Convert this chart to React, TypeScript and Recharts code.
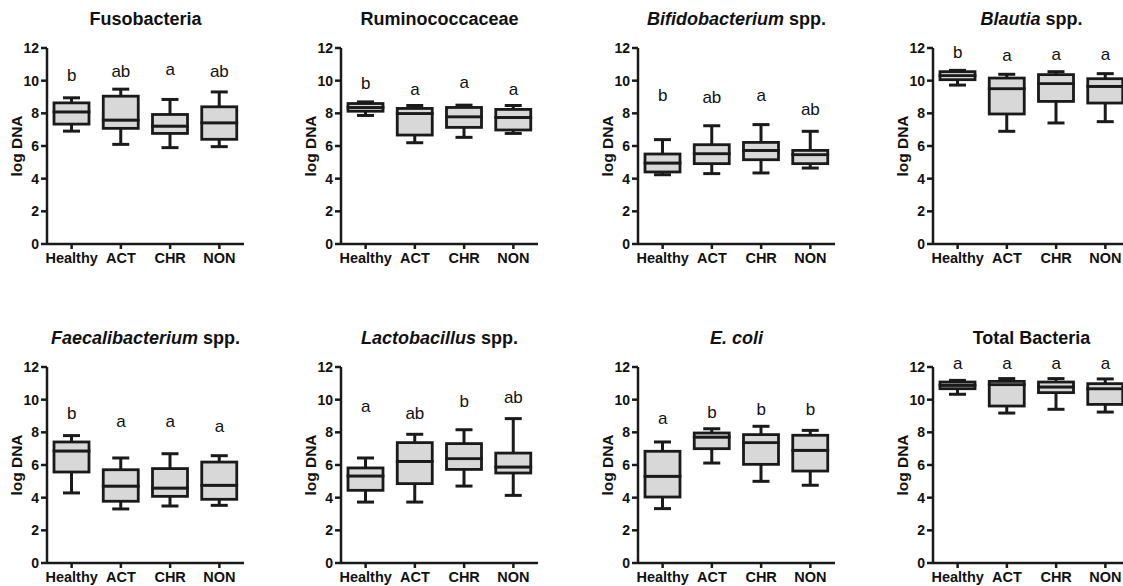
import React from 'react'
import { ComposedChart, Bar, Scatter, XAxis, YAxis } from 'recharts'

const categories = ['Healthy', 'ACT', 'CHR', 'NON']
const yTicks = [0, 2, 4, 6, 8, 10, 12]

// [min, q1, median, q3, max] per group
const fusobacteria = [
  [6.91, 7.34, 8.09, 8.64, 8.95],
  [6.1, 7.08, 7.59, 9.05, 9.48],
  [5.9, 6.77, 7.22, 7.93, 8.85],
  [5.96, 6.41, 7.42, 8.4, 9.31],
]
const fusobacteriaLetters = ['b', 'ab', 'a', 'ab']
const fusobacteriaLetterY = [9.97, 10.23, 10.33, 10.23]

const ruminococcaceae = [
  [7.87, 8.13, 8.36, 8.6, 8.7],
  [6.2, 6.67, 7.99, 8.3, 8.48],
  [6.53, 7.14, 7.79, 8.36, 8.5],
  [6.77, 6.98, 7.75, 8.24, 8.48],
]
const ruminococcaceaeLetters = ['b', 'a', 'a', 'a']
const ruminococcaceaeLetterY = [9.46, 9.11, 9.58, 9.11]

const bifidobacterium = [
  [4.24, 4.41, 4.96, 5.51, 6.39],
  [4.31, 4.92, 5.53, 6.08, 7.24],
  [4.35, 5.16, 5.73, 6.22, 7.31],
  [4.65, 4.92, 5.47, 5.73, 6.9],
]
const bifidobacteriumLetters = ['b', 'ab', 'a', 'ab']
const bifidobacteriumLetterY = [8.73, 8.63, 8.73, 7.92]

const blautia = [
  [9.73, 10.06, 10.31, 10.55, 10.63],
  [6.9, 7.96, 9.51, 10.16, 10.39],
  [7.41, 8.73, 9.82, 10.37, 10.55],
  [7.49, 8.63, 9.65, 10.12, 10.43],
]
const blautiaLetters = ['b', 'a', 'a', 'a']
const blautiaLetterY = [11.39, 11.18, 11.24, 11.24]

const faecalibacterium = [
  [4.29, 5.57, 6.86, 7.41, 7.8],
  [3.31, 3.78, 4.71, 5.71, 6.43],
  [3.49, 4.08, 4.59, 5.78, 6.69],
  [3.53, 3.9, 4.76, 6.18, 6.57],
]
const faecalibacteriumLetters = ['b', 'a', 'a', 'a']
const faecalibacteriumLetterY = [8.84, 8.33, 8.33, 8.02]

const lactobacillus = [
  [3.73, 4.45, 5.33, 5.82, 6.43],
  [3.73, 4.86, 6.22, 7.37, 7.88],
  [4.71, 5.73, 6.39, 7.31, 8.16],
  [4.14, 5.51, 5.88, 6.73, 8.84],
]
const lactobacillusLetters = ['a', 'ab', 'b', 'ab']
const lactobacillusLetterY = [9.24, 8.84, 9.55, 9.8]

const ecoli = [
  [3.33, 4.04, 5.31, 6.84, 7.41],
  [6.12, 7.0, 7.71, 7.96, 8.22],
  [5.0, 6.04, 7.37, 7.86, 8.37],
  [4.76, 5.63, 6.9, 7.82, 8.12],
]
const ecoliLetters = ['a', 'b', 'b', 'b']
const ecoliLetterY = [8.53, 8.9, 9.04, 9.04]

const totalBacteria = [
  [10.33, 10.67, 10.88, 11.08, 11.18],
  [9.18, 9.61, 10.92, 11.12, 11.29],
  [9.41, 10.43, 10.78, 11.08, 11.29],
  [9.24, 9.71, 10.67, 10.98, 11.27],
]
const totalBacteriaLetters = ['a', 'a', 'a', 'a']
const totalBacteriaLetterY = [11.86, 11.86, 11.86, 11.86]

const INK = '#1a1a1a'
const BOX_FILL = '#d8d8d8'
const CAP = 8.5

const panels = [
  { title: <>Fusobacteria</>, stats: fusobacteria, letters: fusobacteriaLetters, letterY: fusobacteriaLetterY },
  { title: <>Ruminococcaceae</>, stats: ruminococcaceae, letters: ruminococcaceaeLetters, letterY: ruminococcaceaeLetterY },
  { title: <><i>Bifidobacterium</i> spp.</>, stats: bifidobacterium, letters: bifidobacteriumLetters, letterY: bifidobacteriumLetterY },
  { title: <><i>Blautia</i> spp.</>, stats: blautia, letters: blautiaLetters, letterY: blautiaLetterY },
  { title: <><i>Faecalibacterium</i> spp.</>, stats: faecalibacterium, letters: faecalibacteriumLetters, letterY: faecalibacteriumLetterY },
  { title: <><i>Lactobacillus</i> spp.</>, stats: lactobacillus, letters: lactobacillusLetters, letterY: lactobacillusLetterY },
  { title: <><i>E. coli</i></>, stats: ecoli, letters: ecoliLetters, letterY: ecoliLetterY },
  { title: <>Total Bacteria</>, stats: totalBacteria, letters: totalBacteriaLetters, letterY: totalBacteriaLetterY },
]

const colLeft = [0, 294, 591, 886]
const rowTop = [0, 319]

const Empty = () => <g />

const LowerWhisker = (p: any) => {
  const cx = p.x + p.width / 2
  return (
    <g stroke={INK} strokeWidth={3}>
      <line x1={cx} y1={p.y} x2={cx} y2={p.y + p.height} />
      <line x1={cx - CAP} y1={p.y + p.height} x2={cx + CAP} y2={p.y + p.height} />
    </g>
  )
}

const UpperWhisker = (p: any) => {
  const cx = p.x + p.width / 2
  return (
    <g stroke={INK} strokeWidth={3}>
      <line x1={cx} y1={p.y + p.height} x2={cx} y2={p.y} />
      <line x1={cx - CAP} y1={p.y} x2={cx + CAP} y2={p.y} />
    </g>
  )
}

const BoxPart = (p: any) => (
  <rect x={p.x} y={p.y} width={p.width} height={p.height} fill={BOX_FILL} stroke={INK} strokeWidth={2.8} />
)

const Letter = (p: any) => (
  <text x={p.cx} y={p.cy} textAnchor="middle" fontSize={17} fill="#111">
    {p.payload.letter}
  </text>
)

function BoxPanel({ title, stats, letters, letterY }: any) {
  const data = categories.map((name, i) => {
    const [min, q1, med, q3, max] = stats[i]
    return {
      name,
      base: min,
      lowW: q1 - min,
      boxLo: med - q1,
      boxHi: q3 - med,
      upW: max - q3,
      letter: letters[i],
      ly: letterY[i],
    }
  })

  return (
    <div style={{ position: 'relative', width: 295, height: 274 }}>
      <div
        style={{
          position: 'absolute',
          left: 47,
          width: 197,
          top: 10,
          textAlign: 'center',
          fontWeight: 'bold',
          fontSize: 18,
          lineHeight: '18px',
          whiteSpace: 'nowrap',
          color: '#111',
        }}
      >
        {title}
      </div>
      <ComposedChart width={295} height={274} data={data} margin={{ top: 48, right: 51, bottom: 0, left: 0 }}>
        <XAxis
          dataKey="name"
          interval={0}
          height={30}
          tickSize={5}
          tickMargin={4}
          axisLine={{ stroke: INK, strokeWidth: 2.5 }}
          tickLine={{ stroke: INK, strokeWidth: 2.5 }}
          tick={{ fill: '#111', fontSize: 14.5, fontWeight: 'bold' }}
        />
        <YAxis
          type="number"
          domain={[0, 12]}
          ticks={yTicks}
          width={47}
          tickSize={6}
          tickMargin={2}
          axisLine={{ stroke: INK, strokeWidth: 2.5 }}
          tickLine={{ stroke: INK, strokeWidth: 2.5 }}
          tick={{ fill: '#111', fontSize: 14, fontWeight: 'bold' }}
          label={{
            value: 'log DNA',
            angle: -90,
            position: 'insideLeft',
            offset: 16,
            style: { textAnchor: 'middle', fontSize: 15.5, fontWeight: 'bold', fill: '#111' },
          }}
        />
        <Bar dataKey="base" stackId="box" barSize={35} shape={Empty} isAnimationActive={false} />
        <Bar dataKey="lowW" stackId="box" barSize={35} shape={LowerWhisker} isAnimationActive={false} />
        <Bar dataKey="boxLo" stackId="box" barSize={35} shape={BoxPart} isAnimationActive={false} />
        <Bar dataKey="boxHi" stackId="box" barSize={35} shape={BoxPart} isAnimationActive={false} />
        <Bar dataKey="upW" stackId="box" barSize={35} shape={UpperWhisker} isAnimationActive={false} />
        <Scatter dataKey="ly" shape={Letter} isAnimationActive={false} />
      </ComposedChart>
    </div>
  )
}

export default function App() {
  return (
    <div
      style={{
        position: 'absolute',
        left: 0,
        top: 0,
        width: 1123,
        height: 586,
        overflow: 'hidden',
        background: '#fff',
        fontFamily: '"Liberation Sans", Arial, sans-serif',
      }}
    >
      {panels.map((p, i) => (
        <div
          key={i}
          style={{ position: 'absolute', left: colLeft[i % 4], top: rowTop[Math.floor(i / 4)] }}
        >
          <BoxPanel {...p} />
        </div>
      ))}
    </div>
  )
}
